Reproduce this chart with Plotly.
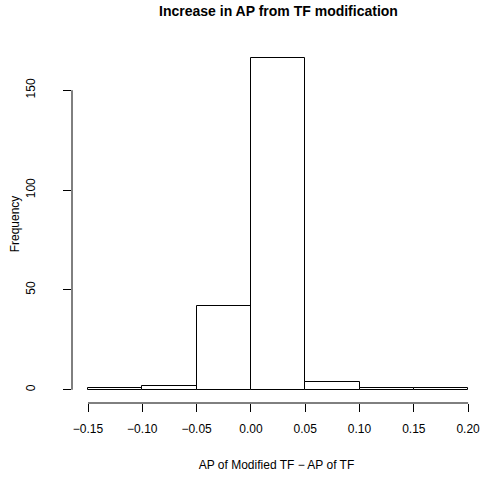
import plotly.graph_objects as go

# Data
bin_edges = [-0.15, -0.10, -0.05, 0.00, 0.05, 0.10, 0.15, 0.20]
counts = [1, 2, 42, 166, 4, 1, 1]
x_ticks = [-0.15, -0.10, -0.05, 0.00, 0.05, 0.10, 0.15, 0.20]
x_tick_labels = ["\u22120.15", "\u22120.10", "\u22120.05", "0.00", "0.05", "0.10", "0.15", "0.20"]
y_ticks = [0, 50, 100, 150]
y_tick_labels = ["0", "50", "100", "150"]

centers = [(a + b) / 2 for a, b in zip(bin_edges[:-1], bin_edges[1:])]
widths = [b - a for a, b in zip(bin_edges[:-1], bin_edges[1:])]

W, H = 481, 477
ml, mr, mt, mb = 72, 0, 45, 74
FONT = "Liberation Sans, Arial, Helvetica, sans-serif"

fig = go.Figure()
fig.add_trace(go.Bar(
    x=centers, y=counts, width=widths,
    marker=dict(color="white", line=dict(color="black", width=1)),
    hoverinfo="x+y",
))

px_per_unit = 54.3 / 0.05
x_lo = x_ticks[0] - 16 / px_per_unit
x_hi = x_ticks[0] + (W - ml - 16) / px_per_unit
ymax = max(counts)

fig.update_layout(
    width=W, height=H,
    margin=dict(l=ml, r=mr, t=mt, b=mb, pad=0, autoexpand=False),
    plot_bgcolor="white", paper_bgcolor="white",
    showlegend=False,
    font=dict(family=FONT, size=12, color="black"),
    title=dict(text="<b>Increase in AP from TF modification</b>",
               font=dict(family=FONT, size=14, color="black"),
               x=278.5 / W, xref="container", xanchor="center",
               y=1 - 11 / H, yref="container", yanchor="middle"),
    xaxis=dict(range=[x_lo, x_hi], tickmode="array", tickvals=x_ticks, ticktext=x_tick_labels,
               ticks="outside", ticklen=8, tickcolor="black", tickwidth=1, ticklabelstandoff=7,
               showline=False, showgrid=False, zeroline=False, automargin=False,
               title=dict(text="AP of Modified TF \u2212 AP of TF", standoff=25,
                          font=dict(family=FONT, size=12))),
    yaxis=dict(range=[-0.04 * ymax, 1.04 * ymax], tickmode="array", tickvals=y_ticks, ticktext=y_tick_labels,
               ticks="outside", ticklen=8, tickcolor="black", tickwidth=1, tickangle=-90, ticklabelstandoff=23,
               showline=False, showgrid=False, zeroline=False, automargin=False,
               title=dict(text="Frequency", standoff=2, font=dict(family=FONT, size=12))),
    bargap=0,
)

# R-style axis lines spanning only the tick range
fig.add_shape(type="line", xref="x", yref="paper", x0=x_ticks[0], x1=x_ticks[-1], y0=0, y1=0,
              line=dict(color="black", width=1))
fig.add_shape(type="line", xref="paper", yref="y", x0=0, x1=0, y0=y_ticks[0], y1=y_ticks[-1],
              line=dict(color="black", width=1))

fig.write_html("out.html", config={"displayModeBar": False},
               post_script="document.body.style.margin='0';document.body.style.overflow='hidden';")
